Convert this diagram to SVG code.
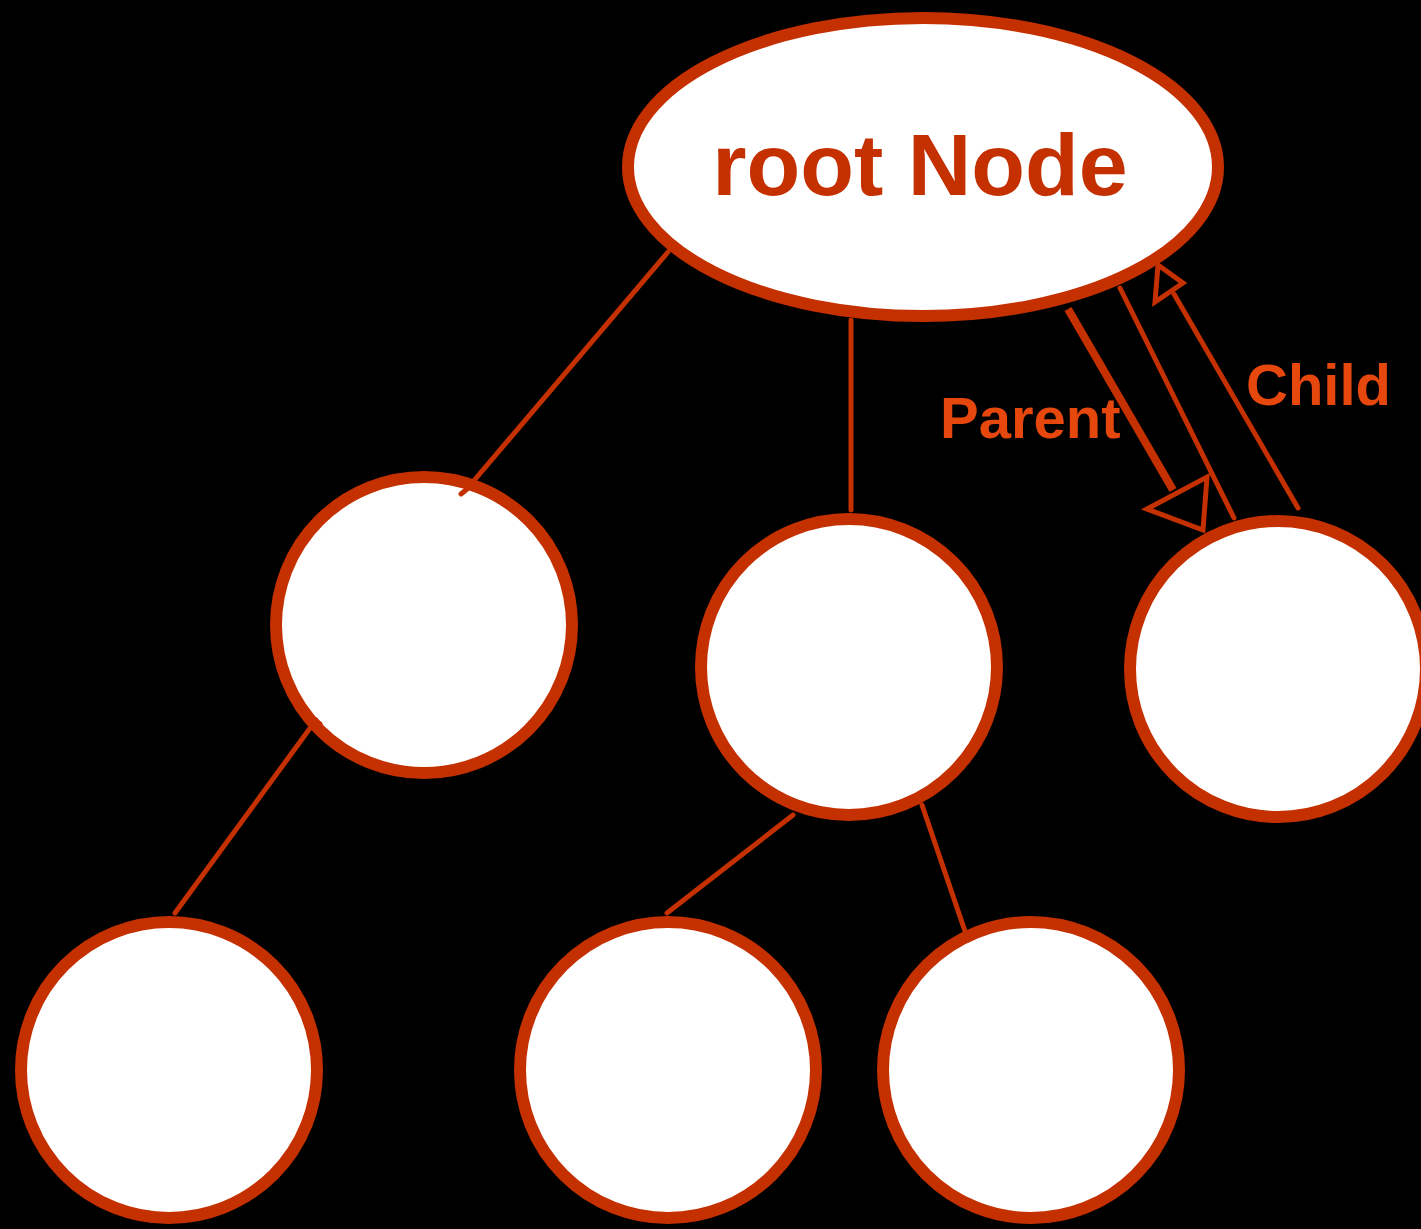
<svg xmlns="http://www.w3.org/2000/svg" width="1421" height="1229" viewBox="0 0 1421 1229">
  <style>
    .node { fill: #ffffff; stroke: #c43000; stroke-width: 12; }
    .edge { fill: none; stroke: #c43000; stroke-width: 5; stroke-linecap: round; }
    .thick { stroke-width: 8; stroke-linecap: butt; }
    .head { fill: #000000; stroke: #c43000; stroke-width: 5; stroke-linejoin: miter; }
    .title { font-family: "Liberation Sans", Arial, sans-serif; font-weight: bold; font-size: 88px; fill: #c43000; }
    .label { font-family: "Liberation Sans", Arial, sans-serif; font-weight: bold; font-size: 58px; fill: #e6470c; }
  </style>
  <rect x="0" y="0" width="1421" height="1229" fill="#000000"/>

  <g id="root">
    <ellipse class="node" cx="923" cy="167" rx="295" ry="149"/>
    <text class="title" x="920" y="195" text-anchor="middle">root Node</text>
  </g>
  <g id="n1"><circle class="node" cx="424" cy="625" r="148"/></g>
  <g id="n2"><circle class="node" cx="849" cy="667" r="148"/></g>
  <g id="n3"><circle class="node" cx="1278" cy="669" r="148"/></g>
  <g id="n4"><circle class="node" cx="169" cy="1070" r="148"/></g>
  <g id="n5"><circle class="node" cx="668" cy="1070" r="148"/></g>
  <g id="n6"><circle class="node" cx="1031" cy="1070" r="148"/></g>

  <g id="connectors">
    <path class="edge" d="M668,252 L466,490 M461,494 L472,485"/>
    <path class="edge" d="M851,320 L851,510"/>
    <path class="edge" d="M316,720 L175,913 M310,716 L320,724"/>
    <path class="edge" d="M793,815 L667,913"/>
    <path class="edge" d="M922,805 L968,940"/>
    <!-- parent link: node up to the root, hollow head at the child end -->
    <path class="edge thick" d="M1068,309 L1173,490"/>
    <polygon class="head" points="1147,509 1207,477 1203,530"/>
    <path class="edge" d="M1120,288 L1234,518"/>
    <!-- child link: back up to the root -->
    <path class="edge" d="M1298,508 L1174,294"/>
    <polygon class="head" points="1158,265 1183,283 1155,302"/>
  </g>

  <g id="labels">
    <text class="label" x="940" y="438">Parent</text>
    <text class="label" x="1246" y="405">Child</text>
  </g>
</svg>
